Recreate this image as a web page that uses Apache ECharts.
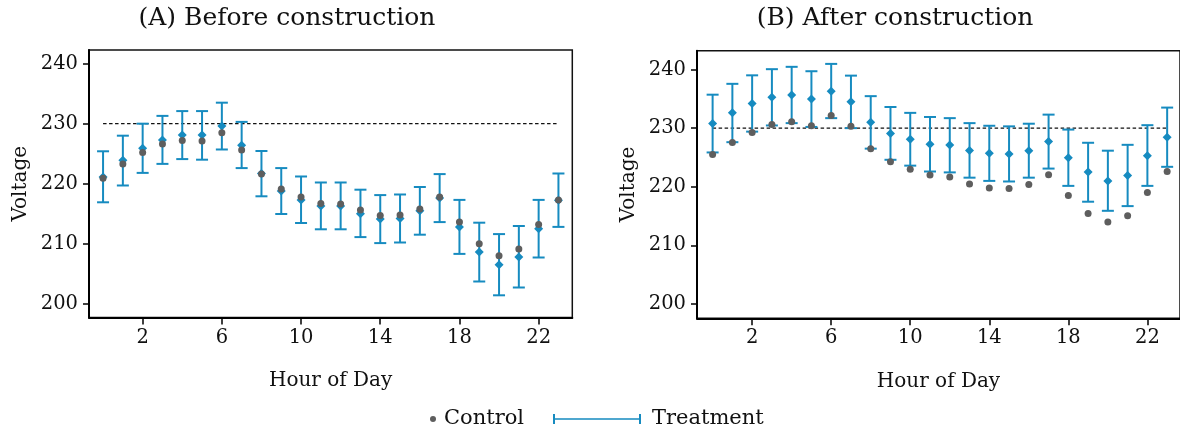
<!DOCTYPE html>
<html>
<head>
<meta charset="utf-8">
<script src="https://cdn.jsdelivr.net/npm/echarts@6/dist/echarts.min.js"></script>
<style>
  html, body { margin: 0; padding: 0; background: #fff; }
  #chart { width: 1180px; height: 431px; }
</style>
</head>
<body>
<div id="chart"></div>
<script>
// Hourly mean voltage, control vs treatment (with 95% interval), before and after construction
const hours = [0, 1, 2, 3, 4, 5, 6, 7, 8, 9, 10, 11, 12, 13, 14, 15, 16, 17, 18, 19, 20, 21, 22, 23];
const xTicks = [2, 6, 10, 14, 18, 22];
const yTicks = [200, 210, 220, 230, 240];
const nominalVoltage = 230;

const beforeControl   = [220.9, 223.3, 225.2, 226.6, 227.2, 227.1, 228.5, 225.6, 221.6, 219.1, 217.8, 216.7, 216.6, 215.6, 214.7, 214.8, 215.8, 217.8, 213.6, 210.0, 208.0, 209.1, 213.2, 217.3];
const beforeTreatment = [221.1, 223.9, 225.9, 227.3, 228.1, 228.1, 229.6, 226.4, 221.7, 218.8, 217.3, 216.3, 216.3, 215.0, 214.1, 214.2, 215.5, 217.6, 212.8, 208.6, 206.5, 207.8, 212.5, 217.25];
const beforeLow       = [216.9, 219.7, 221.8, 223.3, 224.1, 224.0, 225.7, 222.6, 217.9, 214.95, 213.45, 212.4, 212.4, 211.1, 210.1, 210.2, 211.5, 213.6, 208.3, 203.7, 201.4, 202.7, 207.7, 212.8];
const beforeHigh      = [225.4, 228.0, 230.0, 231.3, 232.1, 232.1, 233.5, 230.3, 225.45, 222.6, 221.2, 220.2, 220.2, 219.0, 218.1, 218.2, 219.45, 221.6, 217.3, 213.5, 211.6, 212.95, 217.3, 221.7];

const afterControl    = [225.5, 227.55, 229.25, 230.6, 231.1, 230.4, 232.15, 230.3, 226.5, 224.25, 223.0, 222.0, 221.65, 220.45, 219.8, 219.7, 220.4, 222.05, 218.5, 215.45, 214.0, 215.05, 219.0, 222.6];
const afterTreatment  = [230.8, 232.6, 234.2, 235.25, 235.65, 234.95, 236.3, 234.5, 231.0, 229.1, 228.1, 227.25, 227.1, 226.2, 225.7, 225.6, 226.15, 227.7, 224.95, 222.5, 221.0, 221.9, 225.3, 228.45];
const afterLow        = [225.85, 227.6, 229.4, 230.45, 230.85, 230.2, 231.7, 230.0, 226.5, 224.6, 223.6, 222.6, 222.45, 221.55, 221.0, 220.9, 221.55, 223.1, 220.15, 217.45, 215.9, 216.7, 220.15, 223.4];
const afterHigh       = [235.7, 237.55, 239.0, 240.05, 240.45, 239.7, 240.95, 238.95, 235.45, 233.6, 232.6, 231.9, 231.7, 230.85, 230.4, 230.3, 230.75, 232.3, 229.75, 227.5, 226.15, 227.15, 230.5, 233.5];

const panelTitles = ['(A) Before construction', '(B) After construction'];

const BLUE = '#168bc0';
const GRAY = '#5e5e5e';
const FONT = 'DejaVu Serif';

const chart = echarts.init(document.getElementById('chart'), null, { renderer: 'canvas' });

const pairs = (xs, ys) => xs.map((x, i) => [x, ys[i]]);
const ranges = (xs, lo, hi) => xs.map((x, i) => [x, lo[i], hi[i]]);

// Vertical interval with end caps, positioned through the axis scales
function renderInterval(params, api) {
  const x = api.value(0);
  const pLo = api.coord([x, api.value(1)]);
  const pHi = api.coord([x, api.value(2)]);
  const half = 6;
  const style = { stroke: BLUE, lineWidth: 2, fill: null };
  return {
    type: 'group',
    children: [
      { type: 'line', shape: { x1: pLo[0], y1: pLo[1], x2: pHi[0], y2: pHi[1] }, style },
      { type: 'line', shape: { x1: pLo[0] - half, y1: pLo[1], x2: pLo[0] + half, y2: pLo[1] }, style },
      { type: 'line', shape: { x1: pHi[0] - half, y1: pHi[1], x2: pHi[0] + half, y2: pHi[1] }, style }
    ]
  };
}

const grids = [
  { left: 89, top: 50, width: 483.3, height: 267.5 },
  { left: 697, top: 50.7, width: 483, height: 267.6 }
];
const xRanges = [[-0.71, 23.70], [-0.79, 23.65]];
const yRanges = [[197.7, 242.28], [197.57, 243.2]];

function xAxisFor(i) {
  return {
    type: 'value', gridIndex: i, min: xRanges[i][0], max: xRanges[i][1],
    name: 'Hour of Day', nameLocation: 'middle', nameGap: 53,
    nameTextStyle: { fontFamily: FONT, fontSize: 20, color: '#111' },
    axisLine: { show: true, onZero: false, lineStyle: { color: '#000', width: 2 } },
    axisTick: { show: true, length: 7, lineStyle: { color: '#000', width: 1.5 }, customValues: xTicks },
    axisLabel: { fontFamily: FONT, fontSize: 19.5, color: '#111', margin: 10, customValues: xTicks },
    splitLine: { show: false }
  };
}
function yAxisFor(i) {
  return {
    type: 'value', gridIndex: i, min: yRanges[i][0], max: yRanges[i][1],
    name: 'Voltage', nameLocation: 'middle', nameGap: 58, nameRotate: 90,
    nameTextStyle: { fontFamily: FONT, fontSize: 20, color: '#111' },
    axisLine: { show: true, onZero: false, lineStyle: { color: '#000', width: 2 } },
    axisTick: { show: true, length: 6, lineStyle: { color: '#000', width: 1.5 }, customValues: yTicks },
    axisLabel: { fontFamily: FONT, fontSize: 19.5, color: '#111', margin: 11, customValues: yTicks },
    splitLine: { show: false }
  };
}

const panels = [
  { control: beforeControl, treat: beforeTreatment, lo: beforeLow, hi: beforeHigh },
  { control: afterControl, treat: afterTreatment, lo: afterLow, hi: afterHigh }
];

const series = [];
panels.forEach((p, i) => {
  series.push({
    name: 'reference', type: 'line', xAxisIndex: i, yAxisIndex: i,
    data: [[hours[0], nominalVoltage], [hours[hours.length - 1], nominalVoltage]],
    symbol: 'none', silent: true, z: 1,
    lineStyle: { color: '#111', width: 1.3, type: [3.5, 2.5] }
  });
  series.push({
    name: 'Treatment', type: 'custom', xAxisIndex: i, yAxisIndex: i,
    renderItem: renderInterval, encode: { x: 0, y: [1, 2] },
    itemStyle: { color: BLUE }, z: 2,
    data: ranges(hours, p.lo, p.hi)
  });
  series.push({
    name: 'Treatment', type: 'scatter', xAxisIndex: i, yAxisIndex: i,
    symbol: 'diamond', symbolSize: 9, itemStyle: { color: BLUE, opacity: 1 }, z: 3,
    data: pairs(hours, p.treat)
  });
  series.push({
    name: 'Control', type: 'scatter', xAxisIndex: i, yAxisIndex: i,
    symbol: 'circle', symbolSize: 7, itemStyle: { color: GRAY, opacity: 1 }, z: 4,
    data: pairs(hours, p.control)
  });
});

const option = {
  animation: false,
  backgroundColor: '#fff',
  grid: grids.map(g => Object.assign({ show: true, borderColor: '#111', borderWidth: 1.5, backgroundColor: 'transparent' }, g)),
  xAxis: [xAxisFor(0), xAxisFor(1)],
  yAxis: [yAxisFor(0), yAxisFor(1)],
  legend: [
    {
      left: 425, top: 402, itemWidth: 6, itemHeight: 6,
      data: [{ name: 'Control', icon: 'circle', itemStyle: { color: GRAY } }],
      textStyle: { fontFamily: FONT, fontSize: 21, color: '#111', padding: [0, 0, 0, 3], lineHeight: 24 },
      selectedMode: false
    },
    {
      left: 548, top: 402, itemWidth: 88, itemHeight: 10,
      data: [{ name: 'Treatment', icon: 'path://M0,0H2V10H0Z M2,4.2H86V5.8H2Z M86,0H88V10H86Z', itemStyle: { color: BLUE } }],
      textStyle: { fontFamily: FONT, fontSize: 21, color: '#111', padding: [0, 0, 0, 6], lineHeight: 24 },
      selectedMode: false
    }
  ],
  graphic: [
    { type: 'text', x: 287, y: 18, style: { text: panelTitles[0], fontFamily: FONT, fontSize: 25, fill: '#111', align: 'center', verticalAlign: 'middle' } },
    { type: 'text', x: 895, y: 18, style: { text: panelTitles[1], fontFamily: FONT, fontSize: 25, fill: '#111', align: 'center', verticalAlign: 'middle' } }
  ],
  series
};

chart.setOption(option);
</script>
</body>
</html>
